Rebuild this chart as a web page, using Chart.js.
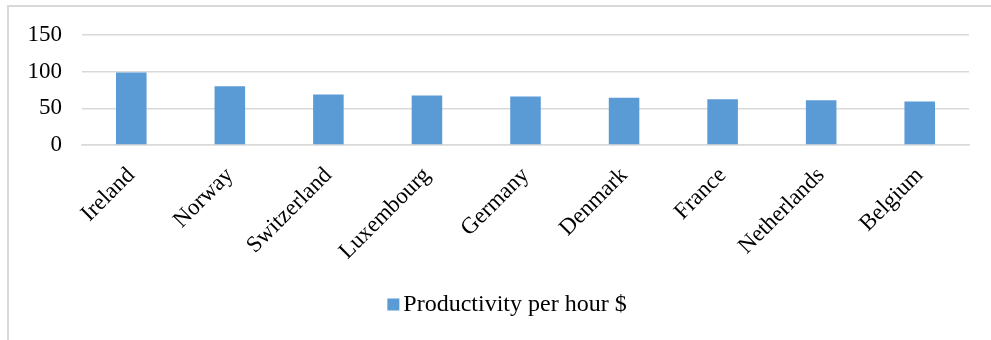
<!DOCTYPE html>
<html>
<head>
<meta charset="utf-8">
<script src="https://cdn.jsdelivr.net/npm/chart.js@4/dist/chart.umd.min.js"></script>
<style>
  html, body { margin: 0; padding: 0; background: #ffffff; }
  #wrap { position: relative; width: 991px; height: 340px; overflow: hidden; }
  #frame { position: absolute; left: 7px; top: 5px; width: 1000px; height: 400px;
           border-left: 2px solid #d9d9d9; border-top: 2px solid #d9d9d9; box-sizing: border-box; }
  canvas { position: absolute; left: 0; top: 0; }
</style>
</head>
<body>
<div id="wrap">
  <div id="frame"></div>
  <canvas id="chart" width="991" height="340"></canvas>
</div>
<script>
// Labour productivity (GDP per hour worked, USD) by country
const countries = ['Ireland', 'Norway', 'Switzerland', 'Luxembourg', 'Germany', 'Denmark', 'France', 'Netherlands', 'Belgium'];
const productivity = [99, 80, 69, 67.5, 66, 64.5, 62.5, 61, 59.3];
const seriesName = 'Productivity per hour $';
const yTicks = [0, 50, 100, 150];

const serif = "'Liberation Serif', 'Times New Roman', serif";

// Compact legend under the axis labels: square swatch with a tight gap to the text
const bottomLegend = {
  id: 'bottomLegend',
  afterDraw(chart) {
    const ctx = chart.ctx;
    const ds = chart.data.datasets[0];
    const box = 12, gap = 4, centerX = 507, centerY = 304.5;
    ctx.save();
    ctx.font = `24px ${serif}`;
    const w = ctx.measureText(ds.label).width;
    const left = centerX - (box + gap + w) / 2;
    ctx.fillStyle = ds.backgroundColor;
    ctx.fillRect(left, centerY - box / 2, box, box);
    ctx.fillStyle = '#000000';
    ctx.textBaseline = 'middle';
    ctx.textAlign = 'left';
    ctx.fillText(ds.label, left + box + gap, centerY);
    ctx.restore();
  }
};

new Chart(document.getElementById('chart'), {
  type: 'bar',
  data: {
    labels: countries,
    datasets: [{
      label: seriesName,
      data: productivity,
      backgroundColor: '#5b9bd5',
      borderWidth: 0,
      barPercentage: 0.31,
      categoryPercentage: 1
    }]
  },
  options: {
    responsive: false,
    animation: false,
    devicePixelRatio: 1,
    layout: { padding: { top: 35, right: 22, bottom: 0, left: 0 } },
    plugins: {
      tooltip: { enabled: false },
      legend: { display: false }
    },
    scales: {
      y: {
        min: 0,
        max: 150,
        afterBuildTicks: (axis) => { axis.ticks = yTicks.map(v => ({ value: v })); },
        afterFit: (axis) => { axis.width = 82; },
        grid: { color: '#d9d9d9', lineWidth: 1.5, drawTicks: false },
        border: { display: false },
        ticks: {
          color: '#000000',
          padding: 20,
          font: { family: serif, size: 23 }
        }
      },
      x: {
        afterFit: (axis) => { axis.height = 195; },
        grid: { display: false },
        border: { display: true, color: '#d9d9d9', width: 1.5 },
        ticks: {
          color: '#000000',
          minRotation: 45,
          maxRotation: 45,
          padding: 9,
          autoSkip: false,
          font: { family: serif, size: 23 }
        }
      }
    }
  },
  plugins: [bottomLegend]
});
</script>
</body>
</html>
